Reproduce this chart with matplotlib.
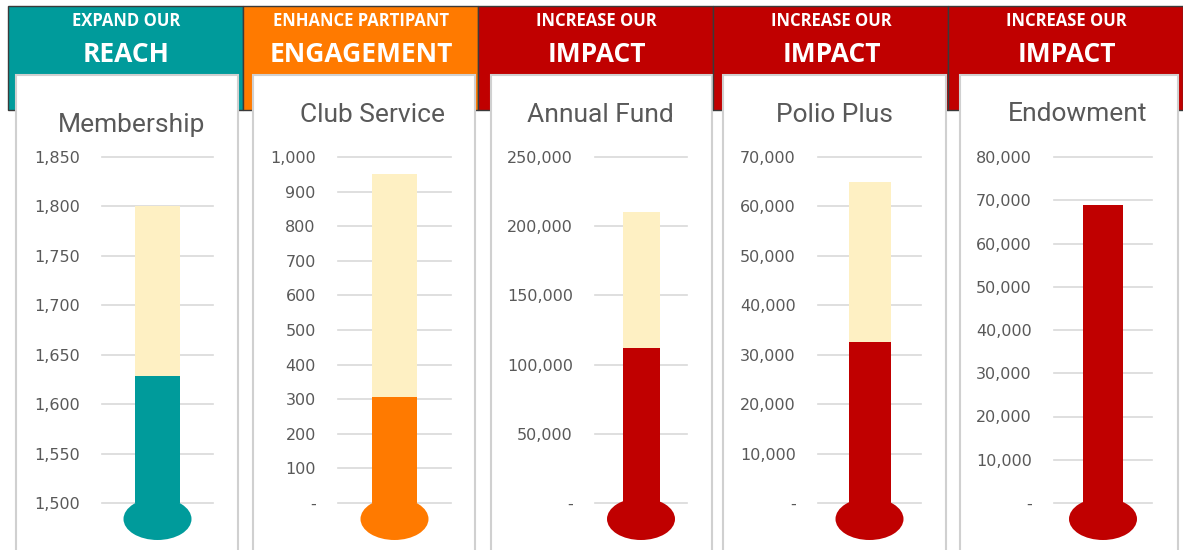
import matplotlib
matplotlib.use("Agg")
import matplotlib.pyplot as plt
import numpy as np
from matplotlib.patches import Ellipse, Rectangle
from matplotlib.ticker import FuncFormatter

# --- data ---
titles = ["Membership", "Club Service", "Annual Fund", "Polio Plus", "Endowment"]
header_top = ["EXPAND OUR", "ENHANCE PARTIPANT", "INCREASE OUR", "INCREASE OUR", "INCREASE OUR"]
header_main = ["REACH", "ENGAGEMENT", "IMPACT", "IMPACT", "IMPACT"]
goals = [1800, 950, 210000, 65000, 65000]
actuals = [1628, 305, 112000, 32500, 69000]
axis_min = [1500, 0, 0, 0, 0]
axis_max = [1850, 1000, 250000, 70000, 80000]
tick_step = [50, 100, 50000, 10000, 10000]

# --- style / layout (pixels) ---
W, H = 1183, 550
TEAL, ORANGE, RED, CREAM = "#009B9B", "#FF7A00", "#C00000", "#FEF0C3"
colors = [TEAL, ORANGE, RED, RED, RED]
GREY_TXT = "#595959"
GRID = "#D9D9D9"

band_x = [8, 243, 478, 713, 948]
band_w = 235
card_x = [16, 253, 491, 723, 960]
card_r = [238, 475, 712, 946, 1178]
grid_x = [(102, 213), (338, 451), (595, 687), (818, 921), (1054, 1152)]
bar_px = [45, 45, 37, 42, 40]
title_x = [132, 373, 600, 834, 1078]
title_base = [132, 122, 122, 122, 121]
plot_top, plot_bot = 157, 503


def fmt(v, _pos):
    return "-" if v == 0 else f"{v:,.0f}"


fig = plt.figure(figsize=(W / 100, H / 100), dpi=100)
bg = fig.add_axes([0, 0, 1, 1], zorder=0)
bg.set_xlim(0, W)
bg.set_ylim(H, 0)
bg.axis("off")

for i in range(5):
    bg.add_patch(Rectangle((band_x[i], 6), band_w, 104, facecolor=colors[i],
                           edgecolor="#3A3A3A", lw=1))
    cx = band_x[i] + band_w / 2 + 1
    bg.text(cx, 26, header_top[i], ha="center", va="baseline", color="white",
            fontsize=12, fontweight="bold", family="Open Sans")
    bg.text(cx, 62, header_main[i], ha="center", va="baseline", color="white",
            fontsize=19, fontweight="bold", family="Open Sans")
    bg.add_patch(Rectangle((card_x[i], 75), card_r[i] - card_x[i], 500,
                           facecolor="white", edgecolor="#D0D0D0", lw=1.5))
    bg.text(title_x[i], title_base[i], titles[i], ha="center", va="baseline",
            color=GREY_TXT, fontsize=19, family="Roboto")

for i in range(5):
    x0, x1 = grid_x[i]
    gw = x1 - x0
    ph = plot_bot - plot_top
    ax = fig.add_axes([x0 / W, 1 - plot_bot / H, gw / W, ph / H], zorder=2)
    ax.patch.set_visible(False)
    bw = bar_px[i] / gw
    ax.bar(0, goals[i], width=bw, color=CREAM, zorder=2)
    ax.bar(0, actuals[i], width=bw, color=colors[i], zorder=3)
    ax.add_patch(Ellipse((0.5, -16 / ph), 68 / gw, 42 / ph, transform=ax.transAxes,
                         facecolor=colors[i], edgecolor="none", clip_on=False, zorder=4))
    ax.set_xlim(-0.5, 0.5)
    ax.set_ylim(axis_min[i], axis_max[i])
    ax.set_yticks(np.arange(axis_min[i], axis_max[i] + tick_step[i], tick_step[i]))
    ax.yaxis.set_major_formatter(FuncFormatter(fmt))
    ax.set_xticks([])
    ax.tick_params(axis="y", length=0, pad=16, labelsize=11.5, labelcolor=GREY_TXT)
    ax.yaxis.grid(True, color=GRID, lw=1.2)
    for gl in ax.get_ygridlines():
        gl.set_clip_on(False)
    ax.set_axisbelow(True)
    for s in ax.spines.values():
        s.set_visible(False)

fig.savefig("out.png", dpi=100)
